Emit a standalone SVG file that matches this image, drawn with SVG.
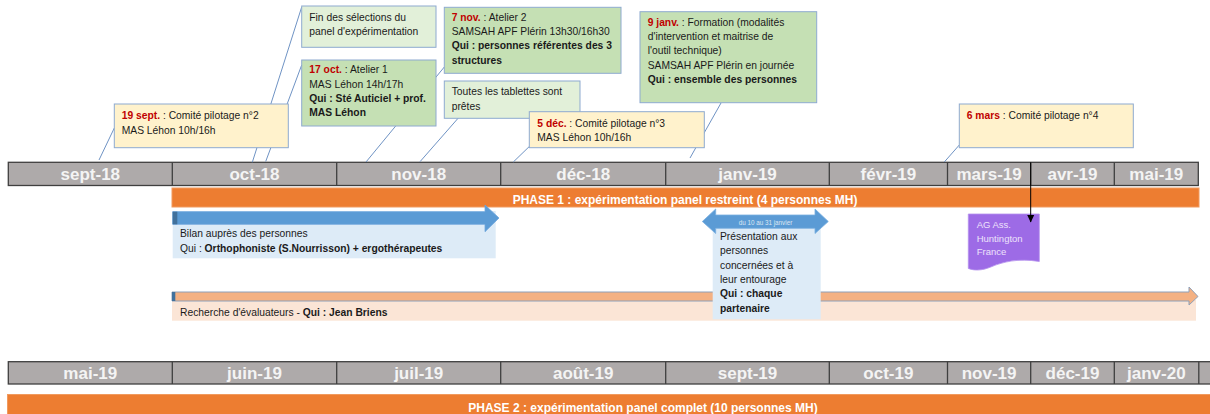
<svg xmlns="http://www.w3.org/2000/svg" width="1210" height="414" viewBox="0 0 1210 414">
<defs>
<style>
.t{font-family:"Liberation Sans",Arial,sans-serif;font-size:10.3px;fill:#1a1a1a}
.b{font-weight:bold}
.r{font-weight:bold;fill:#c00000}
.m{font-family:"Liberation Sans",Arial,sans-serif;font-size:17px;font-weight:bold;fill:#f4f4f4;text-anchor:middle}
.tl{fill:#aeaaaa;stroke:#3f3f3f;stroke-width:1.3}
.sep{stroke:#3f3f3f;stroke-width:1.3}
.ph{fill:#ed7d31;stroke:#f19a5e;stroke-width:1}
.pht{font-family:"Liberation Sans",Arial,sans-serif;font-size:12px;font-weight:bold;fill:#ffffff;text-anchor:middle}
.yel{fill:#fff2cc;stroke:#8eaad0;stroke-width:1}
.grn{fill:#c5e0b4;stroke:#8eaad0;stroke-width:1}
.lgr{fill:#e2f0d9;stroke:#8eaad0;stroke-width:1}
.cl{stroke:#6f93c4;stroke-width:1;fill:none}
</style>
<marker id="ah" markerWidth="8" markerHeight="8" refX="7" refY="4" orient="auto" markerUnits="userSpaceOnUse"><path d="M0,0.5 L7.5,4 L0,7.5 z" fill="#000"/></marker>
</defs>
<rect width="1210" height="414" fill="#ffffff"/>

<g id="timeline1">
<rect class="tl" x="8.3" y="162.3" width="1190" height="23.2"/>
<line class="sep" x1="172.3" y1="162.3" x2="172.3" y2="185.5"/>
<line class="sep" x1="336.7" y1="162.3" x2="336.7" y2="185.5"/>
<line class="sep" x1="500.7" y1="162.3" x2="500.7" y2="185.5"/>
<line class="sep" x1="665.7" y1="162.3" x2="665.7" y2="185.5"/>
<line class="sep" x1="829.3" y1="162.3" x2="829.3" y2="185.5"/>
<line class="sep" x1="947.5" y1="162.3" x2="947.5" y2="185.5"/>
<line class="sep" x1="1030.7" y1="162.3" x2="1030.7" y2="185.5"/>
<line class="sep" x1="1114.3" y1="162.3" x2="1114.3" y2="185.5"/>
<text class="m" x="90.3" y="180">sept-18</text>
<text class="m" x="254.5" y="180">oct-18</text>
<text class="m" x="418.7" y="180">nov-18</text>
<text class="m" x="583.2" y="180">déc-18</text>
<text class="m" x="747.5" y="180">janv-19</text>
<text class="m" x="888.4" y="180">févr-19</text>
<text class="m" x="989.1" y="180">mars-19</text>
<text class="m" x="1072.5" y="180">avr-19</text>
<text class="m" x="1156.3" y="180">mai-19</text>
</g>

<g id="phase1">
<rect class="ph" x="172" y="188" width="1027" height="19"/>
<text class="pht" x="685" y="204">PHASE 1 : expérimentation panel restreint (4 personnes MH)</text>
</g>

<g id="bilan">
<rect x="172.7" y="211" width="323" height="47.3" fill="#ddebf7"/>
<polygon points="172.7,211.7 485,211.7 485,205 499,218 485,231.7 485,224.3 172.7,224.3" fill="#5b9bd5" stroke="#6ea6dc" stroke-width="0.8"/>
<rect x="172.7" y="211.7" width="4.6" height="12.6" fill="#41719c"/>
<text class="t" x="180" y="237">Bilan auprès des personnes</text>
<text class="t" x="180" y="251.7">Qui : <tspan class="b">Orthophoniste (S.Nourrisson) + ergothérapeutes</tspan></text>
</g>

<g id="recherche">
<rect x="172" y="300" width="1024" height="20.7" fill="#fbe5d6"/>
<polygon points="172,292 1189,292 1189,287 1198,296.5 1189,305 1189,301 172,301" fill="#f4b183" stroke="#8ea0b8" stroke-width="1"/>
<rect x="172" y="292" width="3.3" height="9" fill="#41719c"/>
<text class="t" x="180" y="316.3">Recherche d'évaluateurs - <tspan class="b">Qui : Jean Briens</tspan></text>
</g>

<g id="presentation">
<rect x="712.7" y="228" width="108" height="91.3" fill="#ddebf7"/>
<polygon points="702.3,221.5 715.7,209 715.7,215 815,215 815,209 828.3,221.5 815,233.5 815,228.3 715.7,228.3 715.7,233.5" fill="#5b9bd5" stroke="#7aaee0" stroke-width="0.8"/>
<text x="765.5" y="225" font-family="Liberation Sans,Arial,sans-serif" font-size="6.3" fill="#dce6f2" text-anchor="middle">du 10 au 31 janvier</text>
<text class="t" x="720" y="240">Présentation aux</text>
<text class="t" x="720" y="254.3">personnes</text>
<text class="t" x="720" y="268.6">concernées et à</text>
<text class="t" x="720" y="282.9">leur entourage</text>
<text class="t b" x="720" y="297.3">Qui : chaque</text>
<text class="t b" x="720" y="311.6">partenaire</text>
</g>

<g id="ag">
<path d="M968.3,214 L1039.3,214 L1039.3,261.5 C1018,258 1003,262 992,266.5 C983,270.5 975,271 968.3,268.5 Z" fill="#9d6be6" stroke="#b592ee" stroke-width="0.8"/>
<text x="976.7" y="228" font-family="Liberation Sans,Arial,sans-serif" font-size="9.5" fill="#ede2fb">AG Ass.</text>
<text x="976.7" y="241.5" font-family="Liberation Sans,Arial,sans-serif" font-size="9.5" fill="#ede2fb">Huntington</text>
<text x="976.7" y="255" font-family="Liberation Sans,Arial,sans-serif" font-size="9.5" fill="#ede2fb">France</text>
</g>

<g id="timeline2">
<rect class="tl" x="8.3" y="361.7" width="1215" height="22.3"/>
<line class="sep" x1="172.3" y1="361.7" x2="172.3" y2="384"/>
<line class="sep" x1="336.7" y1="361.7" x2="336.7" y2="384"/>
<line class="sep" x1="500.7" y1="361.7" x2="500.7" y2="384"/>
<line class="sep" x1="665.7" y1="361.7" x2="665.7" y2="384"/>
<line class="sep" x1="829.3" y1="361.7" x2="829.3" y2="384"/>
<line class="sep" x1="947.5" y1="361.7" x2="947.5" y2="384"/>
<line class="sep" x1="1030.7" y1="361.7" x2="1030.7" y2="384"/>
<line class="sep" x1="1114.3" y1="361.7" x2="1114.3" y2="384"/>
<line class="sep" x1="1198.8" y1="361.7" x2="1198.8" y2="384"/>
<text class="m" x="90.3" y="378.5">mai-19</text>
<text class="m" x="254.5" y="378.5">juin-19</text>
<text class="m" x="418.7" y="378.5">juil-19</text>
<text class="m" x="583.2" y="378.5">août-19</text>
<text class="m" x="747.5" y="378.5">sept-19</text>
<text class="m" x="888.4" y="378.5">oct-19</text>
<text class="m" x="989.1" y="378.5">nov-19</text>
<text class="m" x="1072.5" y="378.5">déc-19</text>
<text class="m" x="1156.3" y="378.5">janv-20</text>
</g>

<g id="phase2">
<rect class="ph" x="7.5" y="394.5" width="1215" height="25"/>
<text class="pht" x="643" y="411.5">PHASE 2 : expérimentation panel complet (10 personnes MH)</text>
</g>

<g id="connectors">
<line class="cl" x1="99" y1="160" x2="114.3" y2="128"/>
<line class="cl" x1="252.3" y1="162.3" x2="301.7" y2="7"/>
<line class="cl" x1="265.7" y1="161.5" x2="301.7" y2="65"/>
<line class="cl" x1="366" y1="162" x2="444.3" y2="67"/>
<line class="cl" x1="420" y1="161.7" x2="458.3" y2="118"/>
<line class="cl" x1="513.3" y1="162" x2="529.3" y2="146.5"/>
<line class="cl" x1="690" y1="158" x2="721" y2="103"/>
<line class="cl" x1="944.3" y1="162" x2="959.3" y2="145"/>
<line x1="1030.7" y1="162.3" x2="1030.7" y2="222" stroke="#000" stroke-width="1" marker-end="url(#ah)"/>
</g>

<g id="c-19sept">
<rect class="yel" x="114.3" y="104" width="174" height="43.7"/>
<text class="t" x="121.7" y="119.3"><tspan class="r">19 sept.</tspan> : Comité pilotage n°2</text>
<text class="t" x="121.7" y="133.6">MAS Léhon 10h/16h</text>
</g>

<g id="c-fin">
<rect class="lgr" x="301.7" y="6" width="134.3" height="41.3"/>
<text class="t" x="309.3" y="20.7">Fin des sélections du</text>
<text class="t" x="309.3" y="35">panel d'expérimentation</text>
</g>

<g id="c-17oct">
<rect class="grn" x="301.7" y="60" width="134.3" height="66"/>
<text class="t" x="309.3" y="73.3"><tspan class="r">17 oct.</tspan> : Atelier 1</text>
<text class="t" x="309.3" y="87.6">MAS Léhon 14h/17h</text>
<text class="t b" x="309.3" y="101.9">Qui : Sté Auticiel + prof.</text>
<text class="t b" x="309.3" y="116.2">MAS Léhon</text>
</g>

<g id="c-7nov">
<rect class="grn" x="444.3" y="7.3" width="176.7" height="66"/>
<text class="t" x="451.7" y="20.7"><tspan class="r">7 nov.</tspan> : Atelier 2</text>
<text class="t" x="451.7" y="35">SAMSAH APF Plérin 13h30/16h30</text>
<text class="t b" x="451.7" y="49.3">Qui : personnes référentes des 3</text>
<text class="t b" x="451.7" y="63.6">structures</text>
</g>

<g id="c-tablettes">
<rect class="lgr" x="444.3" y="81" width="135.7" height="37.3"/>
<text class="t" x="451.7" y="95">Toutes les tablettes sont</text>
<text class="t" x="451.7" y="109.5">prêtes</text>
</g>

<g id="c-5dec">
<rect class="yel" x="529.3" y="111.7" width="175" height="36"/>
<text class="t" x="537.3" y="126.7"><tspan class="r">5 déc.</tspan> : Comité pilotage n°3</text>
<text class="t" x="537.3" y="140.8">MAS Léhon 10h/16h</text>
</g>

<g id="c-9janv">
<rect class="grn" x="640" y="11.7" width="176.7" height="91"/>
<text class="t" x="647.7" y="26"><tspan class="r">9 janv.</tspan> : Formation (modalités</text>
<text class="t" x="647.7" y="40.2">d'intervention et maitrise de</text>
<text class="t" x="647.7" y="54.4">l'outil technique)</text>
<text class="t" x="647.7" y="68.6">SAMSAH APF Plérin en journée</text>
<text class="t b" x="647.7" y="82.8">Qui : ensemble des personnes</text>
</g>

<g id="c-6mars">
<rect class="yel" x="959.3" y="104" width="174" height="43.7"/>
<text class="t" x="966.7" y="119"><tspan class="r">6 mars</tspan> : Comité pilotage n°4</text>
</g>
</svg>
